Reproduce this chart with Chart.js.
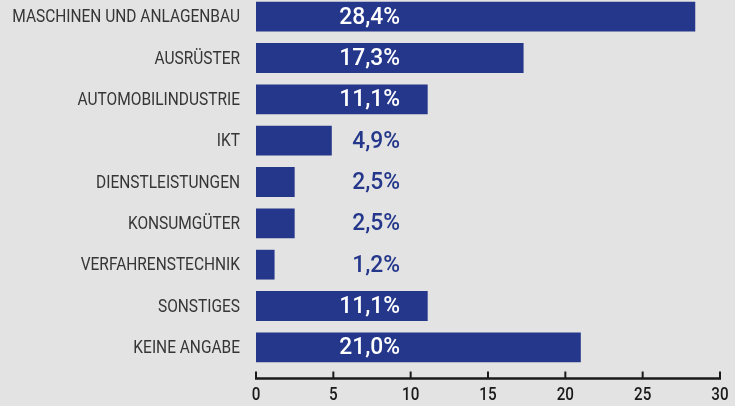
<!DOCTYPE html>
<html lang="de">
<head>
<meta charset="UTF-8">
<title>Branchen</title>
<script src="https://cdn.jsdelivr.net/npm/chart.js"></script>
<style>
  html, body { margin: 0; padding: 0; background: #e3e3e3; overflow: hidden; }
  #wrap { width: 735px; height: 406px; overflow: hidden; }
  #chart { display: block; margin-top: -4px; }
</style>
</head>
<body>
<div id="wrap"><canvas id="chart" width="735" height="410"></canvas></div>
<script>
const categories = [
  'MASCHINEN UND ANLAGENBAU',
  'AUSRÜSTER',
  'AUTOMOBILINDUSTRIE',
  'IKT',
  'DIENSTLEISTUNGEN',
  'KONSUMGÜTER',
  'VERFAHRENSTECHNIK',
  'SONSTIGES',
  'KEINE ANGABE'
];
const shares = [28.4, 17.3, 11.1, 4.9, 2.5, 2.5, 1.2, 11.1, 21.0];
const xTicks = [0, 5, 10, 15, 20, 25, 30];

const blue = '#24378a';

// condensed text helper (the original uses a narrow DIN-like face)
function narrowText(ctx, txt, x, y, sx) {
  ctx.save();
  ctx.translate(x, y);
  ctx.scale(sx, 1);
  ctx.fillText(txt, 0, 0);
  ctx.restore();
}

// percentage labels, right-aligned at a fixed spot
const valueLabels = {
  id: 'valueLabels',
  afterDatasetsDraw(chart) {
    const ctx = chart.ctx;
    const xs = chart.scales.x;
    const right = xs.left + 144;
    ctx.save();
    ctx.font = '500 24px Roboto, sans-serif';
    ctx.textAlign = 'right';
    ctx.textBaseline = 'middle';
    chart.getDatasetMeta(0).data.forEach((bar, i) => {
      const txt = shares[i].toFixed(1).replace('.', ',') + '%';
      const w = ctx.measureText(txt).width * 0.95;
      ctx.fillStyle = bar.x > right - w ? '#ffffff' : blue;
      narrowText(ctx, txt, right, bar.y + 1, 0.95);
    });
    ctx.restore();
  }
};

// axis line, upward tick marks and all axis labels
const axisDecor = {
  id: 'axisDecor',
  afterDraw(chart) {
    const xs = chart.scales.x;
    const ys = chart.scales.y;
    const ctx = chart.ctx;
    const base = xs.top + 10.5;
    ctx.save();
    ctx.strokeStyle = '#1a1a1a';
    ctx.fillStyle = '#1a1a1a';
    ctx.lineWidth = 2.5;
    ctx.beginPath();
    ctx.moveTo(xs.getPixelForValue(0) - 1, base);
    ctx.lineTo(xs.getPixelForValue(30) + 1, base);
    ctx.stroke();
    ctx.lineWidth = 2;
    ctx.font = '500 19px Roboto, sans-serif';
    ctx.textAlign = 'center';
    ctx.textBaseline = 'middle';
    xTicks.forEach(v => {
      const px = xs.getPixelForValue(v);
      ctx.beginPath();
      ctx.moveTo(px, base - 7);
      ctx.lineTo(px, base);
      ctx.stroke();
      narrowText(ctx, String(v), px, xs.top + 27, 0.8);
    });
    ctx.fillStyle = '#363636';
    ctx.font = '18px Roboto, sans-serif';
    ctx.textAlign = 'right';
    categories.forEach((c, i) => {
      narrowText(ctx, c, ys.right - 16, ys.getPixelForValue(i) + 1, 0.86);
    });
    ctx.restore();
  }
};

new Chart(document.getElementById('chart'), {
  type: 'bar',
  data: {
    labels: categories,
    datasets: [{
      data: shares,
      backgroundColor: blue,
      borderWidth: 0,
      barPercentage: 0.72,
      categoryPercentage: 1
    }]
  },
  options: {
    indexAxis: 'y',
    responsive: false,
    animation: false,
    layout: { padding: { top: 0, right: 15, left: 0, bottom: 0 } },
    plugins: { legend: { display: false }, tooltip: { enabled: false } },
    scales: {
      x: {
        min: 0,
        max: 30,
        afterBuildTicks: s => { s.ticks = xTicks.map(v => ({ value: v })); },
        afterFit: s => { s.height = 38; },
        border: { display: false },
        grid: { display: false, drawTicks: false },
        ticks: { display: false }
      },
      y: {
        afterFit: s => { s.width = 256; s.paddingTop = 0; s.paddingBottom = 0; },
        border: { display: false },
        grid: { display: false, drawTicks: false },
        ticks: { display: false }
      }
    }
  },
  plugins: [valueLabels, axisDecor]
});
</script>
</body>
</html>
